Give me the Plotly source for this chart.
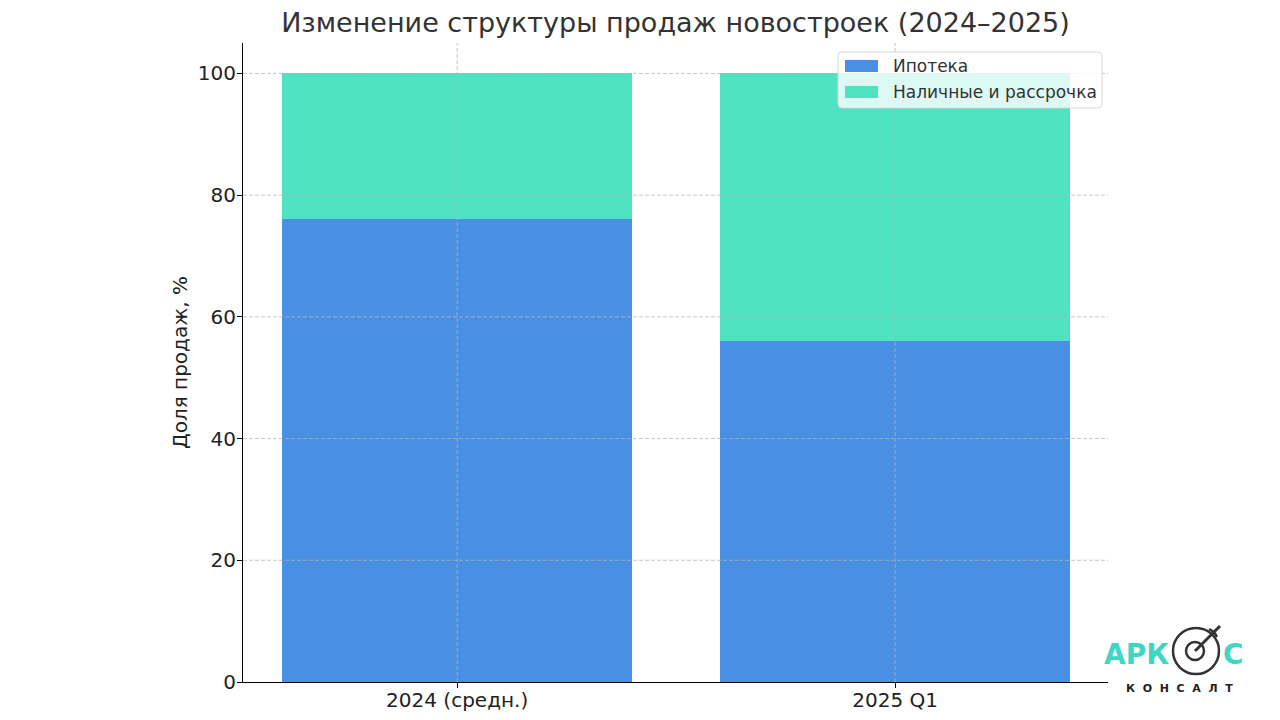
import plotly.graph_objects as go

categories = ['2024 (средн.)', '2025 Q1']
mortgage = [76, 56]
cash = [24, 44]
y_ticks = [0, 20, 40, 60, 80, 100]

FONT = 'DejaVu Sans'
BLUE = '#4A90E2'
TEAL = '#50E3C2'

# границы области построения в пикселях (как у исходника)
L, R, T, B = 243, 1108, 43, 682


def px_x(p):
    return (p - L) / (R - L)


def px_y(p):
    return (B - p) / (B - T)


fig = go.Figure()
fig.add_trace(go.Bar(x=[0, 1], y=mortgage, name='Ипотека', showlegend=False,
                     marker=dict(color=BLUE, line=dict(width=0)), width=0.8))
fig.add_trace(go.Bar(x=[0, 1], y=cash, name='Наличные и рассрочка', showlegend=False,
                     marker=dict(color=TEAL, line=dict(width=0)), width=0.8))

# сетка поверх столбцов
grid = dict(color='rgba(180,180,180,0.75)', width=1, dash='4px,2px')
for v in y_ticks[1:]:
    fig.add_shape(type='line', xref='paper', yref='y', x0=0, x1=1, y0=v, y1=v,
                  line=grid, layer='above')
for c in [0, 1]:
    fig.add_shape(type='line', xref='x', yref='paper', x0=c, x1=c, y0=0, y1=1,
                  line=grid, layer='above')

# легенда в стиле matplotlib
x0, x1, y0, y1, r = 838, 1102, 52, 108, 4
path = (f'M {px_x(x0 + r)} {px_y(y0)} L {px_x(x1 - r)} {px_y(y0)} '
        f'Q {px_x(x1)} {px_y(y0)} {px_x(x1)} {px_y(y0 + r)} '
        f'L {px_x(x1)} {px_y(y1 - r)} Q {px_x(x1)} {px_y(y1)} {px_x(x1 - r)} {px_y(y1)} '
        f'L {px_x(x0 + r)} {px_y(y1)} Q {px_x(x0)} {px_y(y1)} {px_x(x0)} {px_y(y1 - r)} '
        f'L {px_x(x0)} {px_y(y0 + r)} Q {px_x(x0)} {px_y(y0)} {px_x(x0 + r)} {px_y(y0)} Z')
fig.add_shape(type='path', xref='paper', yref='paper', path=path,
              fillcolor='rgba(255,255,255,0.8)', line=dict(color='#d8d8d8', width=1),
              layer='above')
for i, tr in enumerate(fig.data):
    cy = 66 + 26 * i
    fig.add_shape(type='rect', xref='paper', yref='paper',
                  x0=px_x(845), x1=px_x(878), y0=px_y(cy + 6), y1=px_y(cy - 6),
                  fillcolor=tr.marker.color, line=dict(width=0), layer='above')
    fig.add_annotation(text=tr.name, xref='paper', yref='paper', x=px_x(891), y=px_y(cy),
                       xanchor='left', yanchor='middle', showarrow=False,
                       font=dict(family=FONT, size=17, color='#333333'))

# логотип
logo = dict(xref='paper', yref='paper', xanchor='center', yanchor='middle', showarrow=False)
fig.add_annotation(text='<b>АРК</b>', x=px_x(1136), y=px_y(654),
                   font=dict(family=FONT, size=28, color='#3FD6C4'), **logo)
fig.add_annotation(text='<b>С</b>', x=px_x(1233), y=px_y(654),
                   font=dict(family=FONT, size=28, color='#3FD6C4'), **logo)
fig.add_annotation(text='<b>К  О  Н  С  А  Л  Т</b>', x=px_x(1179), y=px_y(688),
                   font=dict(family=FONT, size=11, color='#222222'), **logo)
ring = dict(color='#333333', width=2.5)
fig.add_shape(type='circle', xref='paper', yref='paper',
              x0=px_x(1173), x1=px_x(1219), y0=px_y(674), y1=px_y(628), line=ring)
fig.add_shape(type='circle', xref='paper', yref='paper',
              x0=px_x(1186), x1=px_x(1204), y0=px_y(660), y1=px_y(642), line=ring)
fig.add_shape(type='line', xref='paper', yref='paper',
              x0=px_x(1195), x1=px_x(1220), y0=px_y(651), y1=px_y(626),
              line=dict(color='#333333', width=3))
for dx, dy in [(-5, -3), (3, 5)]:
    fig.add_shape(type='line', xref='paper', yref='paper',
                  x0=px_x(1214), x1=px_x(1214 + dx), y0=px_y(632), y1=px_y(632 + dy),
                  line=dict(color='#333333', width=2.5))

fig.update_layout(
    barmode='stack',
    width=1280, height=720,
    paper_bgcolor='white', plot_bgcolor='white',
    font=dict(family=FONT, color='#222222'),
    showlegend=False,
    title=dict(text='Изменение структуры продаж новостроек (2024–2025)',
               x=675.5 / 1280, xanchor='center',
               y=1 - 23 / 720, yanchor='middle',
               font=dict(size=27, color='#333333')),
    margin=dict(l=L, r=1280 - R, t=T, b=720 - B, autoexpand=False),
    xaxis=dict(range=[-0.489, 1.486], tickmode='array', tickvals=[0, 1],
               ticktext=categories, showgrid=False, showline=True, linecolor='black',
               linewidth=1.2, ticks='outside', ticklen=5, tickcolor='black',
               tickfont=dict(size=20, color='#222222'), zeroline=False, automargin=False,
               ticklabelstandoff=-5),
    yaxis=dict(range=[0, 105], tickmode='array', tickvals=y_ticks, showgrid=False,
               showline=True, linecolor='black', linewidth=1.2, ticks='outside',
               ticklen=5, tickcolor='black', tickfont=dict(size=20, color='#222222'),
               zeroline=False, automargin=False, ticklabelstandoff=-3,
               title=dict(text='Доля продаж, %', font=dict(size=20, color='#222222'),
                          standoff=4)),
)

fig.write_html('out.html', config={'displayModeBar': False},
               post_script="document.body.style.margin='0';")
